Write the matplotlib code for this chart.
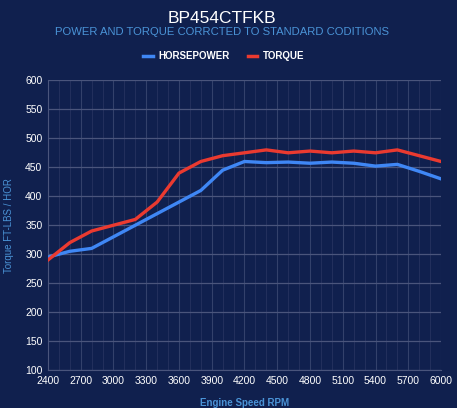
import matplotlib
matplotlib.use("Agg")
import matplotlib.pyplot as plt
from matplotlib.lines import Line2D

rpm = [2400, 2600, 2800, 3000, 3200, 3400, 3600, 3800, 4000, 4200, 4400,
       4600, 4800, 5000, 5200, 5400, 5600, 5800, 6000]
horsepower = [295, 305, 310, 330, 350, 370, 390, 410, 445, 460, 458,
              459, 457, 459, 457, 452, 455, 443, 430]
torque = [290, 320, 340, 350, 360, 390, 440, 460, 470, 475, 480,
          475, 478, 475, 478, 475, 480, 470, 460]
x_ticks = [2400, 2700, 3000, 3300, 3600, 3900, 4200, 4500, 4800, 5100, 5400, 5700, 6000]
y_ticks = [100, 150, 200, 250, 300, 350, 400, 450, 500, 550, 600]

BG = "#10204e"
BLUE = "#3f87f5"
RED = "#ea3a30"
LBLUE = "#4a93d6"

plt.rcParams['font.family'] = ['Liberation Sans', 'DejaVu Sans']

fig = plt.figure(figsize=(4.57, 4.08), dpi=100, facecolor=BG)
ax = fig.add_axes([0.105, 0.093, 0.86, 0.710], facecolor=BG)

# grid
for r in range(2400, 6001, 100):
    major = (r - 2400) % 300 == 0
    ax.axvline(r, color="#33416b" if major else "#222f5c", lw=0.8, zorder=0)
for v in y_ticks:
    ax.axhline(v, color="#4a557c", lw=0.9, zorder=0)

ax.plot(rpm, horsepower, color=BLUE, lw=2.4, solid_joinstyle='round', zorder=3)
ax.plot(rpm, torque, color=RED, lw=2.4, solid_joinstyle='round', zorder=4)

ax.set_xlim(2400, 6000)
ax.set_ylim(100, 600)
ax.set_xticks(x_ticks)
ax.set_yticks(y_ticks)
ax.tick_params(colors="white", labelsize=7.5, length=0)
ax.tick_params(axis='y', pad=4)
ax.tick_params(axis='x', pad=4)
for s in ax.spines.values():
    s.set_visible(False)
ax.spines['left'].set_visible(True)
ax.spines['left'].set_color("#4a557c")
ax.spines['bottom'].set_visible(True)
ax.spines['bottom'].set_color("#4a557c")

ax.set_xlabel("Engine Speed RPM", color=LBLUE, fontsize=7, fontweight='bold', labelpad=9)
ax.set_ylabel("Torque FT-LBS / HOR", color=LBLUE, fontsize=7, labelpad=8)

fig.text(0.486, 0.954, "BP454CTFKB", color="white", fontsize=12.5, ha='center', va='center')
fig.text(0.486, 0.922, "POWER AND TORQUE CORRCTED TO STANDARD CODITIONS",
         color=LBLUE, fontsize=8.1, ha='center', va='center')

handles = [Line2D([0], [0], color=BLUE, lw=2.5), Line2D([0], [0], color=RED, lw=2.5)]
leg = fig.legend(handles, ["HORSEPOWER", "TORQUE"], loc='center', bbox_to_anchor=(0.49, 0.862),
                 ncol=2, frameon=False, fontsize=7, handlelength=1.0, handletextpad=0.6,
                 columnspacing=1.8, labelcolor="white")
for t in leg.get_texts():
    t.set_fontweight('bold')

fig.savefig("out.png", dpi=100, facecolor=BG)
